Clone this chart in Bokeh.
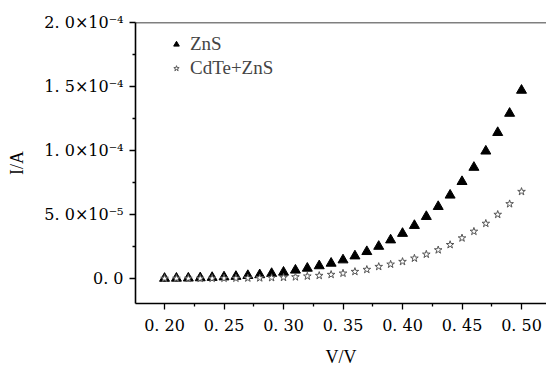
from bokeh.plotting import figure
from bokeh.models import (FixedTicker, CustomJSTickFormatter, Range1d, Legend, LegendItem,
                          Span)
from bokeh.embed import file_html
from bokeh.resources import INLINE

# ---- data ----
voltage = [0.20, 0.21, 0.22, 0.23, 0.24, 0.25, 0.26, 0.27, 0.28, 0.29, 0.30,
           0.31, 0.32, 0.33, 0.34, 0.35, 0.36, 0.37, 0.38, 0.39, 0.40,
           0.41, 0.42, 0.43, 0.44, 0.45, 0.46, 0.47, 0.48, 0.49, 0.50]
current_zns = [0.010e-5, 0.020e-5, 0.030e-5, 0.050e-5, 0.080e-5, 0.12e-5, 0.16e-5, 0.23e-5,
               0.29e-5, 0.39e-5, 0.49e-5, 0.65e-5, 0.80e-5, 0.99e-5, 1.19e-5, 1.45e-5,
               1.76e-5, 2.10e-5, 2.51e-5, 3.01e-5, 3.52e-5, 4.14e-5, 4.84e-5, 5.62e-5,
               6.51e-5, 7.57e-5, 8.68e-5, 9.95e-5, 11.4e-5, 12.9e-5, 14.7e-5]
current_cdte_zns = [0.002e-5, 0.003e-5, 0.005e-5, 0.007e-5, 0.010e-5, 0.015e-5, 0.020e-5,
                    0.030e-5, 0.040e-5, 0.060e-5, 0.080e-5, 0.12e-5, 0.18e-5, 0.23e-5,
                    0.31e-5, 0.41e-5, 0.54e-5, 0.70e-5, 0.93e-5, 1.11e-5, 1.32e-5, 1.58e-5,
                    1.89e-5, 2.23e-5, 2.64e-5, 3.16e-5, 3.68e-5, 4.30e-5, 5.00e-5, 5.83e-5,
                    6.79e-5]
series_names = ["ZnS", "CdTe+ZnS"]
x_ticks = [0.20, 0.25, 0.30, 0.35, 0.40, 0.45, 0.50]
x_tick_labels = ["0. 20", "0. 25", "0. 30", "0. 35", "0. 40", "0. 45", "0. 50"]
y_ticks = [0.0, 5.0e-5, 1.0e-4, 1.5e-4, 2.0e-4]
y_tick_labels = ["0. 0", "5. 0×10⁻⁵", "1. 0×10⁻⁴", "1. 5×10⁻⁴", "2. 0×10⁻⁴"]
x_title = "V/V"
y_title = "I/A"

W, H = 546, 369
FRAME_LEFT, FRAME_BOTTOM = 135, 304
p = figure(width=W, height=H, output_backend="svg", toolbar_location=None,
           x_range=Range1d(0.1756, 0.521), y_range=Range1d(-1.95e-5, 2.0e-4),
           min_border_left=FRAME_LEFT, min_border_right=0, min_border_top=22,
           min_border_bottom=H - FRAME_BOTTOM,
           x_axis_label=x_title, y_axis_label=y_title)
p.outline_line_color = None
p.grid.visible = False
p.background_fill_color = "white"
p.border_fill_color = "white"

r1 = p.scatter(voltage, current_zns, marker="triangle", size=10,
               fill_color="black", line_color="black")
r2 = p.scatter(voltage, current_cdte_zns, marker="star", size=8,
               fill_color="white", line_color="#555555", line_width=1)

fmt_code = """
for (let i = 0; i < vals.length; i++) {
  if (Math.abs(tick - vals[i]) < tol) { return labs[i]; }
}
return '';
"""
p.xaxis.ticker = FixedTicker(ticks=x_ticks,
                             minor_ticks=[0.225, 0.275, 0.325, 0.375, 0.425, 0.475, 0.525])
p.xaxis.formatter = CustomJSTickFormatter(args=dict(vals=x_ticks, labs=x_tick_labels, tol=1e-6),
                                          code=fmt_code)
p.yaxis.ticker = FixedTicker(ticks=y_ticks,
                             minor_ticks=[-2.5e-5, 2.5e-5, 7.5e-5, 1.25e-4, 1.75e-4])
p.yaxis.formatter = CustomJSTickFormatter(args=dict(vals=y_ticks, labs=y_tick_labels, tol=1e-9),
                                          code=fmt_code)

for ax in (p.xaxis, p.yaxis):
    ax.axis_line_width = 1.6
    ax.axis_line_color = "black"
    ax.major_tick_line_color = "black"
    ax.minor_tick_line_color = "black"
    ax.major_tick_line_width = 1.3
    ax.minor_tick_line_width = 1.3
    ax.major_tick_in = 0
    ax.major_tick_out = 6
    ax.minor_tick_in = 0
    ax.minor_tick_out = 3
    ax.major_label_text_font = "DejaVu Serif"
    ax.major_label_text_font_size = "16px"
    ax.major_label_text_color = "black"
    ax.axis_label_text_font = "Liberation Serif"
    ax.axis_label_text_font_style = "normal"
    ax.axis_label_text_font_size = "18px"
    ax.axis_label_text_color = "black"
p.xaxis.major_label_standoff = 6
p.yaxis.major_label_standoff = 6
p.xaxis.axis_label_standoff = 9
p.yaxis.axis_label_standoff = 14

top = Span(location=2.0e-4, dimension="width", line_color="black", line_width=1.6)
p.add_layout(top)

legend = Legend(items=[LegendItem(label=series_names[0], renderers=[r1]),
                       LegendItem(label=series_names[1], renderers=[r2])],
                location=(34, 224), border_line_color=None, background_fill_alpha=0,
                label_text_font="Liberation Serif", label_text_font_size="19px",
                glyph_width=14, glyph_height=22, label_height=22, label_standoff=7,
                spacing=2, margin=0, padding=0)
p.add_layout(legend)

open("out.html", "w").write(file_html(p, INLINE))
